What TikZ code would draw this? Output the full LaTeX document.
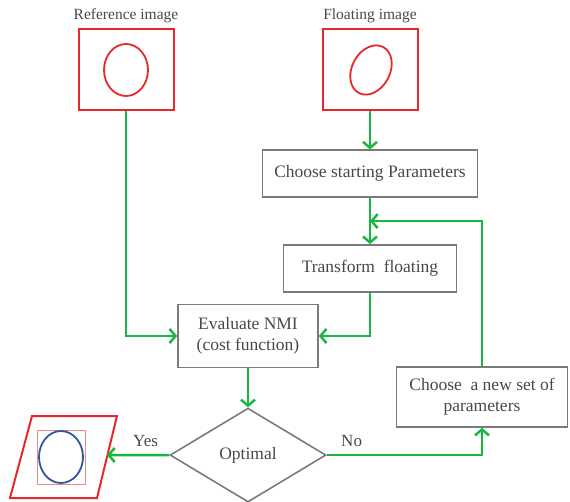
\documentclass[tikz,border=0pt]{standalone}
\usepackage{fontspec}
\setmainfont{Liberation Serif}
\usetikzlibrary{positioning,shapes.geometric,arrows.meta}

\definecolor{flowgreen}{RGB}{24,184,64}
\definecolor{boxgray}{RGB}{122,122,122}
\definecolor{txtgray}{RGB}{72,72,72}
\definecolor{imgred}{RGB}{232,40,40}
\definecolor{imgblue}{RGB}{50,85,155}

\tikzset{
    box/.style={draw=boxgray, line width=1.6pt, text=txtgray, align=center,
        font=\fontsize{17.5}{21}\selectfont, inner sep=0pt},
    imgbox/.style={draw=imgred, line width=2pt, minimum width=95pt, minimum height=81pt},
    flow/.style={draw=flowgreen, line width=2.5pt, -{Straight Barb[length=6pt,width=14pt]}},
    lbl/.style={text=txtgray, font=\fontsize{15.5}{18}\selectfont, inner sep=1pt}
}

\begin{document}
\begin{tikzpicture}[x=1pt,y=-1pt]
    \useasboundingbox (0,0) rectangle (570,502);
    % images
    \node[imgbox] (refimg) at (126,70) {};
    \node[lbl, above=4pt of refimg] (reflbl) {Reference image};
    \draw[imgred, line width=1.8pt] (refimg.center) ellipse (22pt and 26pt);
    \node[imgbox] (floatimg) at (370,70) {};
    \node[lbl, above=4pt of floatimg] (floatlbl) {Floating image};
    \draw[imgred, line width=1.8pt, rotate around={-28:(371,70)}] (371,70) ellipse (19pt and 26pt);
    % flow boxes
    \node[box, minimum width=215pt, minimum height=47pt, below=38pt of floatimg] (choose) {Choose starting Parameters};
    \node[box, minimum width=173pt, minimum height=47pt, below=46pt of choose] (transform) {Transform\ \ floating};
    \coordinate[below=23pt of choose] (loopin);
    \node[box, minimum width=140pt, minimum height=63pt] (nmi) at (248,336) {Evaluate NMI\\(cost function)};
    \node[box, diamond, minimum width=156pt, minimum height=94pt, below=39pt of nmi] (optimal) {Optimal};
    \node[box, minimum width=171pt, minimum height=60pt] (newset) at (482,397) {Choose\ \ a new set of\\parameters};
    % registered output
    \draw[imgred, line width=2pt] (32,416) -- (117,416) -- (97,498) -- (10,498) -- cycle;
    \draw[imgred!55, line width=1pt] (37,430) rectangle (85,484);
    \draw[imgblue, line width=1.8pt] (61,457) ellipse (22pt and 26pt);
    \coordinate (outimg) at (107,455);
    % connectors
    \draw[flow] (refimg.south) |- (nmi.west);
    \draw[flow] (floatimg) -- (choose);
    \draw[flow] (choose) -- (transform);
    \draw[flow] (transform.south) |- (nmi.east);
    \draw[flow] (nmi) -- (optimal);
    \draw[flow] (optimal.west) -- node[lbl, font=\fontsize{17}{20}\selectfont, pos=0.38, above=6pt] {Yes} (outimg);
    \draw[flow] (optimal.east) -| node[lbl, font=\fontsize{17}{20}\selectfont, pos=0.08, above=6pt] {No} (newset.south);
    \draw[flow] (newset.north) |- (loopin);
\end{tikzpicture}
\end{document}
